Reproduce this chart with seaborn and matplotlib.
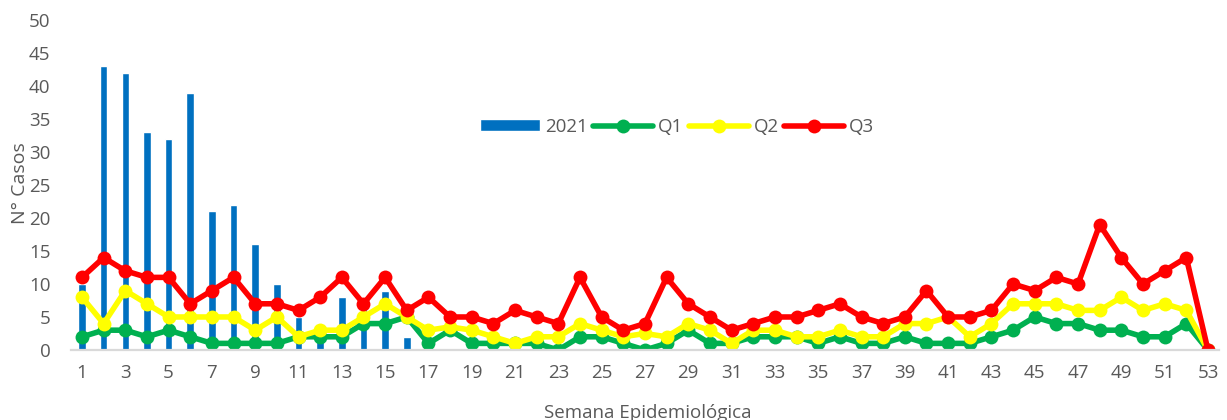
import matplotlib
matplotlib.use('Agg')
import matplotlib.pyplot as plt
import seaborn as sns

# Semanas epidemiológicas
semanas = list(range(1, 54))

# Casos 2021 (barras, solo primeras semanas)
semanas_2021 = list(range(1, 17))
casos_2021 = [10, 43, 42, 33, 32, 39, 21, 22, 16, 10, 5, 4, 8, 8, 9, 2]

# Cuartiles del corredor endémico
q1 = [2, 3, 3, 2, 3, 2, 1, 1, 1, 1, 2, 2, 2, 4, 4, 5, 1, 3, 1, 1,
      1, 1, 0, 2, 2, 1, 0, 1, 3, 1, 1, 2, 2, 2, 1, 2, 1, 1, 2, 1,
      1, 1, 2, 3, 5, 4, 4, 3, 3, 2, 2, 4, 0]
q2 = [8, 4, 9, 7, 5, 5, 5, 5, 3, 5, 2, 3, 3, 5, 7, 5, 3, 3.5, 3, 2,
      1, 2, 2, 4, 3, 2, 2.5, 2, 4, 3, 1, 3, 3, 2, 2, 3, 2, 2, 4, 4,
      5, 2, 4, 7, 7, 7, 6, 6, 8, 6, 7, 6, 0]
q3 = [11, 14, 12, 11, 11, 7, 9, 11, 7, 7, 6, 8, 11, 7, 11, 6, 8, 5, 5, 4,
      6, 5, 4, 11, 5, 3, 4, 11, 7, 5, 3, 4, 5, 5, 6, 7, 5, 4, 5, 9,
      5, 5, 6, 10, 9, 11, 10, 19, 14, 10, 12, 14, 0]

xticks = list(range(1, 54, 2))
yticks = list(range(0, 51, 5))

sns.set_style('white')
plt.rcParams['font.family'] = ['Open Sans', 'DejaVu Sans']
gris = '#595959'

fig = plt.figure(figsize=(12.27, 4.2), dpi=100)
ax = fig.add_axes([0.058, 0.1667, 0.9353, 0.7857])

sns.barplot(x=semanas_2021, y=casos_2021, native_scale=True, width=0.35,
            color='#0070C0', saturation=1, errorbar=None, ax=ax, label='2021')

lw = 4.0
ms = 10
for serie, col, nombre in [(q1, '#00B050', 'Q1'), (q2, '#FFFF00', 'Q2'), (q3, '#FF0000', 'Q3')]:
    sns.lineplot(x=semanas, y=serie, color=col, linewidth=lw, marker='o',
                 markersize=ms, markeredgecolor=col, markeredgewidth=0,
                 ax=ax, label=nombre)

ax.set_xlim(0.5, 53.5)
ax.set_ylim(0, 50)
ax.set_xticks(xticks)
ax.set_xticklabels([str(t) for t in xticks])
ax.set_yticks(yticks)
ax.tick_params(axis='both', length=0, labelsize=13.5, labelcolor=gris)
ax.tick_params(axis='x', pad=10)
ax.tick_params(axis='y', pad=15)

for s in ['top', 'right', 'left']:
    ax.spines[s].set_visible(False)
ax.spines['bottom'].set_color('#D9D9D9')
ax.spines['bottom'].set_linewidth(1.6)

ax.set_ylabel('N° Casos', fontsize=14, color=gris)
ax.yaxis.set_label_coords(-0.037, 0.506)
ax.set_xlabel('Semana Epidemiológica', fontsize=13.5, color=gris)
ax.xaxis.set_label_coords(0.502, -0.165)

# leyenda: 2021 primero, luego Q1, Q2, Q3
handles, labels = ax.get_legend_handles_labels()
orden = [labels.index(n) for n in ['2021', 'Q1', 'Q2', 'Q3']]
ax.legend([handles[i] for i in orden], [labels[i] for i in orden],
          loc='center', bbox_to_anchor=(0.552, 0.698), bbox_transform=fig.transFigure,
          ncol=4, frameon=False, fontsize=13.5, labelcolor=gris,
          handlelength=3.2, handleheight=0.6, handletextpad=0.25, columnspacing=0.3)

fig.savefig('out.png', dpi=100)
